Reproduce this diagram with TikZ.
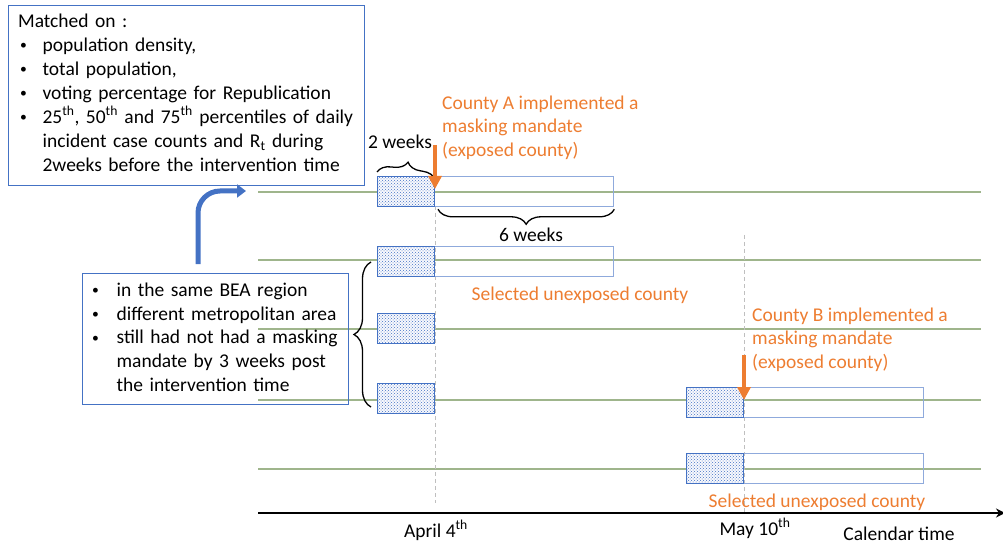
\documentclass[tikz,border=0pt]{standalone}
\usepackage{fontspec}
\setmainfont{Carlito}
\usetikzlibrary{arrows.meta,patterns,decorations.pathreplacing}
\definecolor{boxblue}{HTML}{4472C4}
\definecolor{lightblue}{HTML}{8FAADC}
\definecolor{gline}{HTML}{9FB58C}
\definecolor{orng}{HTML}{ED7D31}
\definecolor{dgray}{HTML}{BFBFBF}
\newcommand\bulc[1]{\makebox[#1][l]{\hspace{2pt}\raisebox{1.8pt}{\scalebox{0.7}{•}}}}
\begin{document}
\begin{tikzpicture}[x=1pt,y=-1pt,
  every node/.style={font=\fontsize{19.5}{23.7}\selectfont, inner sep=0pt},
  infobox/.style={draw=boxblue, line width=1.2pt, anchor=north west, align=left},
  dotbox/.style={draw=boxblue, line width=1.3pt, anchor=north west, minimum width=57pt, minimum height=30pt, preaction={fill=boxblue!4}, pattern=crosshatch dots, pattern color=boxblue},
  openbox/.style={draw=lightblue, line width=1.3pt, anchor=north west, minimum width=179pt, minimum height=30pt},
  greenline/.style={draw=gline, line width=1.3pt},
  guide/.style={draw=dgray, line width=0.9pt, dash pattern=on 4pt off 3pt},
  bracestyle/.style={draw=black, line width=1.3pt, decorate, decoration={brace, amplitude=#1}},
  oarrow/.style={draw=orng, line width=4pt, -{Triangle[width=13pt,length=13pt]}},
  barrow/.style={draw=boxblue, line width=5pt, rounded corners=22pt, -{Triangle[width=13pt,length=9pt]}},
  axisline/.style={draw=black, line width=2.8pt, -{Stealth[length=9pt,width=9pt]}},
  orangetext/.style={text=orng}
]
\useasboundingbox (0,0) rectangle (1003,545);

% green time lines
\draw[greenline] (258,192) coordinate (g1s) -- (981,192) coordinate (g1e);
\draw[greenline] (258,260) coordinate (g2s) -- (981,260) coordinate (g2e);
\draw[greenline] (258,329) coordinate (g3s) -- (981,329) coordinate (g3e);
\draw[greenline] (258,400) coordinate (g4s) -- (981,400) coordinate (g4e);
\draw[greenline] (258,469) coordinate (g5s) -- (981,469) coordinate (g5e);

% dashed guides
\draw[guide] (435,206) coordinate (v1s) -- (435,503) coordinate (v1e);
\draw[guide] (744,235) coordinate (v2s) -- (744,512) coordinate (v2e);

% boxes
\node[openbox] (oA) at (434,176) {};
\node[dotbox]  (dA) at (377,176) {};
\node[openbox] (o2) at (434,246) {};
\node[dotbox]  (d2) at (377,246) {};
\node[dotbox]  (d3) at (377,313) {};
\node[dotbox]  (d4) at (377,383) {};
\node[openbox, minimum width=180pt] (oB) at (743,387) {};
\node[dotbox]  (dB) at (686,387) {};
\node[openbox, minimum width=180pt] (oB2) at (743,453) {};
\node[dotbox]  (dB2) at (686,453) {};

% axis
\coordinate (axs) at (258,513);
\coordinate (axe) at (1005,513);
\draw[axisline] (axs) -- (axe);

% braces
\draw[bracestyle=14] (dA.north west) ++(0,-4) coordinate (b1s) -- ([yshift=-4pt]dA.north east) coordinate (b1e);
\draw[bracestyle=15] ([yshift=-2pt]oA.south east) coordinate (b2s) -- ([xshift=4pt,yshift=-2pt]oA.south west) coordinate (b2e);
\coordinate (b3s) at (371,407);
\coordinate (b3e) at (371,262);
\draw[bracestyle=17] (b3s) -- (b3e);

% orange arrows
\coordinate (aAs) at (435,145);
\coordinate (aAe) at (435,189);
\draw[oarrow] (aAs) -- (aAe);
\coordinate (aBs) at (744,355);
\coordinate (aBe) at (744,400);
\draw[oarrow] (aBs) -- (aBe);

% blue curved arrow
\coordinate (bls) at (198,264);
\coordinate (ble) at (246,191);
\draw[barrow] (bls) |- (ble);

% text boxes
\node[infobox, minimum width=356pt, minimum height=180pt, text width=337pt, inner xsep=9.5pt] (match) at (8,5)
{\fontsize{19.5}{24}\selectfont\vspace{2pt}%
\begin{tabular}{@{}l@{}l@{}}
\multicolumn{2}{@{}l@{}}{Matched on :}\\
\bulc{24.5pt} & population density,\\
\bulc{24.5pt} & total population,\\
\bulc{24.5pt} & voting percentage for Republication\\
\bulc{24.5pt} & 25\textsuperscript{th}, 50\textsuperscript{th} and 75\textsuperscript{th} percentiles of daily\\
 & incident case counts and R\textsubscript{t} during\\
 & 2weeks before the intervention time
\end{tabular}};

\node[infobox, minimum width=266pt, minimum height=131pt, text width=251pt, inner xsep=7.5pt] (crit) at (82,273)
{\fontsize{19.5}{23.8}\selectfont
\begin{tabular}{@{}l@{}l@{}}
\bulc{26.5pt} & in the same BEA region\\
\bulc{26.5pt} & different metropolitan area\\
\bulc{26.5pt} & still had not had a masking\\
 & mandate by 3 weeks post\\
 & the intervention time
\end{tabular}};

\node[orangetext, anchor=north west] (cA) at (442,92.4)
{\begin{tabular}{@{}l@{}}County A implemented a\\masking mandate\\(exposed county)\end{tabular}};
\node[orangetext, anchor=north west] (cB) at (752,304.4)
{\begin{tabular}{@{}l@{}}County B implemented a\\masking mandate\\(exposed county)\end{tabular}};

\node[anchor=base] (twoweeks) at (400,149) {2 weeks};
\node[anchor=base] (sixweeks) at (531,242) {6 weeks};
\node[orangetext, anchor=base] (selA) at (580,300) {Selected unexposed county};
\node[orangetext, anchor=base] (selB) at (817,507) {Selected unexposed county};
\node[anchor=base] (apr) at (436,537) {April 4\textsuperscript{th}};
\node[anchor=base] (may) at (755,535) {May 10\textsuperscript{th}};
\node[anchor=base] (cal) at (899,540) {Calendar time};
\end{tikzpicture}
\end{document}
